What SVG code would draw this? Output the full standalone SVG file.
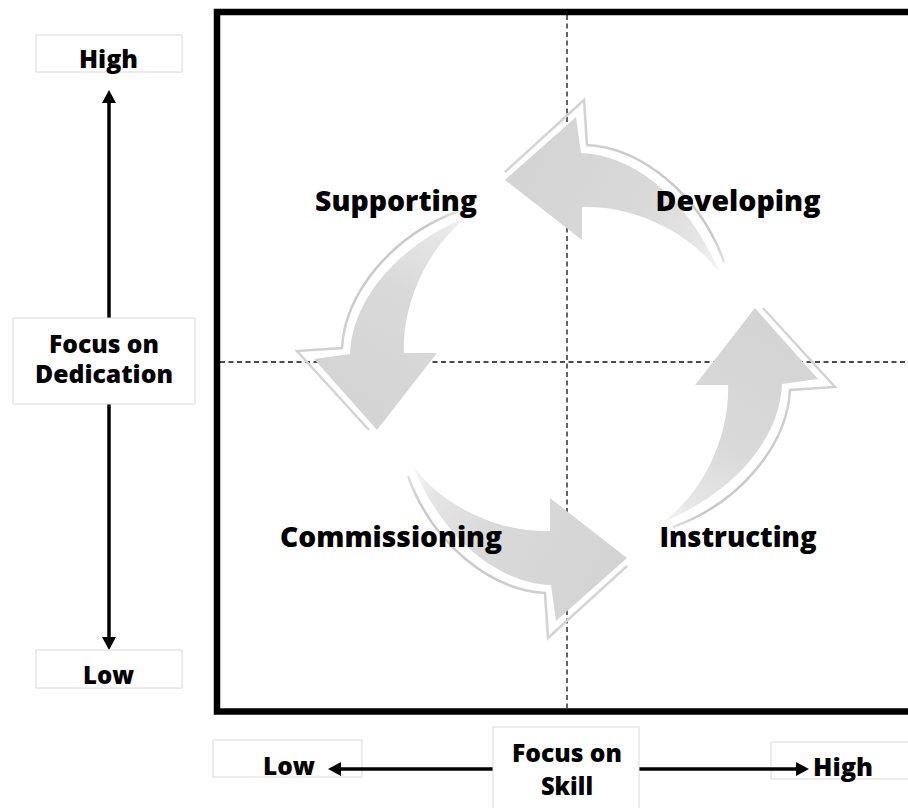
<svg xmlns="http://www.w3.org/2000/svg" xmlns:xlink="http://www.w3.org/1999/xlink" width="908" height="808" viewBox="0 0 908 808">
  <style>
    .lbl { font-family: "Open Sans", "Liberation Sans", sans-serif; font-weight: 800; fill: #000; text-anchor: middle; }
    .quad { font-size: 28.5px; }
    .axis { font-size: 24px; }
    .box { fill: #fff; stroke: #d9d9d9; stroke-width: 1; }
    .axisline { stroke: #000; stroke-width: 3.5; fill: none; }
    .grid { stroke: #111; stroke-width: 1.3; stroke-dasharray: 5 3.5; fill: none; }
    .cyc-fill { fill: url(#cycGrad); }
    .cyc-edge { fill: none; stroke: url(#edgeGrad); stroke-width: 2.5; stroke-linejoin: miter; }
  </style>
  <defs>
    <marker id="tip" markerUnits="userSpaceOnUse" markerWidth="14" markerHeight="14" refX="3" refY="7" orient="auto-start-reverse">
      <path d="M0,0 L13,7 L0,14 z" fill="#000"/>
    </marker>
    <!-- shading fades from the head toward the thin tail -->
    <linearGradient id="cycGrad" gradientUnits="userSpaceOnUse" x1="-40" y1="-210" x2="156" y2="-95">
      <stop offset="0" stop-color="#d4d4d4"/>
      <stop offset="0.55" stop-color="#d9d9d9"/>
      <stop offset="0.85" stop-color="#e6e6e6"/>
      <stop offset="1" stop-color="#f8f8f8"/>
    </linearGradient>
    <linearGradient id="edgeGrad" gradientUnits="userSpaceOnUse" x1="-61" y1="-240" x2="158" y2="-107">
      <stop offset="0" stop-color="#d8d8d8"/>
      <stop offset="0.4" stop-color="#cdcdcd"/>
      <stop offset="0.9" stop-color="#c8c8c8"/>
      <stop offset="1" stop-color="#e0e0e0"/>
    </linearGradient>
    <!-- one curved cycle arrow, drawn about the cycle centre (0,0), pointing left at the top -->
    <g id="cycArrow">
      <path class="cyc-edge" d="M-61,-197 L18,-269 L21,-224 C76,-221 134,-174 158,-107"/>
      <path class="cyc-fill" d="M-61,-189 L10,-252 L15,-216 C69,-214 124,-169 154,-95 C124,-139 64,-164 16,-162 L16,-129 Z"/>
    </g>
  </defs>

  <rect width="908" height="808" fill="#fff"/>

  <!-- quadrant frame and dividers -->
  <g id="frame">
    <line class="grid" x1="567" y1="15" x2="567" y2="708"/>
    <line class="grid" x1="220" y1="362" x2="908" y2="362"/>
    <rect x="217" y="12" width="720" height="699.5" fill="none" stroke="#000" stroke-width="6.5"/>
  </g>

  <!-- cycle arrows -->
  <g id="connectors">
    <use id="arrow-developing-supporting" xlink:href="#cycArrow" href="#cycArrow" transform="translate(566 369)"/>
    <use id="arrow-supporting-commissioning" xlink:href="#cycArrow" href="#cycArrow" transform="translate(566 369) rotate(-90)"/>
    <use id="arrow-commissioning-instructing" xlink:href="#cycArrow" href="#cycArrow" transform="translate(566 369) rotate(180)"/>
    <use id="arrow-instructing-developing" xlink:href="#cycArrow" href="#cycArrow" transform="translate(566 369) rotate(90)"/>
    <!-- axis arrows -->
    <line class="axisline" x1="109" y1="100" x2="109" y2="640" marker-start="url(#tip)" marker-end="url(#tip)"/>
  </g>

  <!-- quadrant labels -->
  <g id="supporting"><text class="lbl quad" x="396" y="211" textLength="162" lengthAdjust="spacingAndGlyphs">Supporting</text></g>
  <g id="developing"><text class="lbl quad" x="738" y="211" textLength="165" lengthAdjust="spacingAndGlyphs">Developing</text></g>
  <g id="commissioning"><text class="lbl quad" x="391" y="547" textLength="222" lengthAdjust="spacingAndGlyphs">Commissioning</text></g>
  <g id="instructing"><text class="lbl quad" x="738" y="547" textLength="157" lengthAdjust="spacingAndGlyphs">Instructing</text></g>

  <!-- vertical axis -->
  <g id="dedication-high">
    <rect class="box" x="36" y="35" width="146" height="37"/>
    <text class="lbl axis" x="108.5" y="68" textLength="59" lengthAdjust="spacingAndGlyphs">High</text>
  </g>
  <g id="dedication-axis">
    <rect class="box" x="13" y="318" width="182" height="86"/>
    <text class="lbl axis" x="104" y="353" textLength="110" lengthAdjust="spacingAndGlyphs">Focus on</text>
    <text class="lbl axis" x="104" y="383" textLength="138" lengthAdjust="spacingAndGlyphs">Dedication</text>
  </g>
  <g id="dedication-low">
    <rect class="box" x="36" y="650" width="146" height="38"/>
    <text class="lbl axis" x="108.5" y="684" textLength="51" lengthAdjust="spacingAndGlyphs">Low</text>
  </g>

  <!-- horizontal axis -->
  <g id="skill-low">
    <rect class="box" x="213" y="740" width="149" height="37"/>
    <text class="lbl axis" x="289" y="775" textLength="52" lengthAdjust="spacingAndGlyphs">Low</text>
  </g>
  <g id="skill-high">
    <rect class="box" x="771" y="742" width="150" height="37"/>
    <text class="lbl axis" x="843" y="776" textLength="60" lengthAdjust="spacingAndGlyphs">High</text>
  </g>
  <g id="skill-arrows">
    <line class="axisline" x1="338" y1="769" x2="799" y2="769" marker-start="url(#tip)" marker-end="url(#tip)"/>
  </g>
  <g id="skill-axis">
    <rect class="box" x="493" y="727" width="146" height="90"/>
    <text class="lbl axis" x="567" y="762" textLength="110" lengthAdjust="spacingAndGlyphs">Focus on</text>
    <text class="lbl axis" x="567" y="795" textLength="52" lengthAdjust="spacingAndGlyphs">Skill</text>
  </g>
</svg>
